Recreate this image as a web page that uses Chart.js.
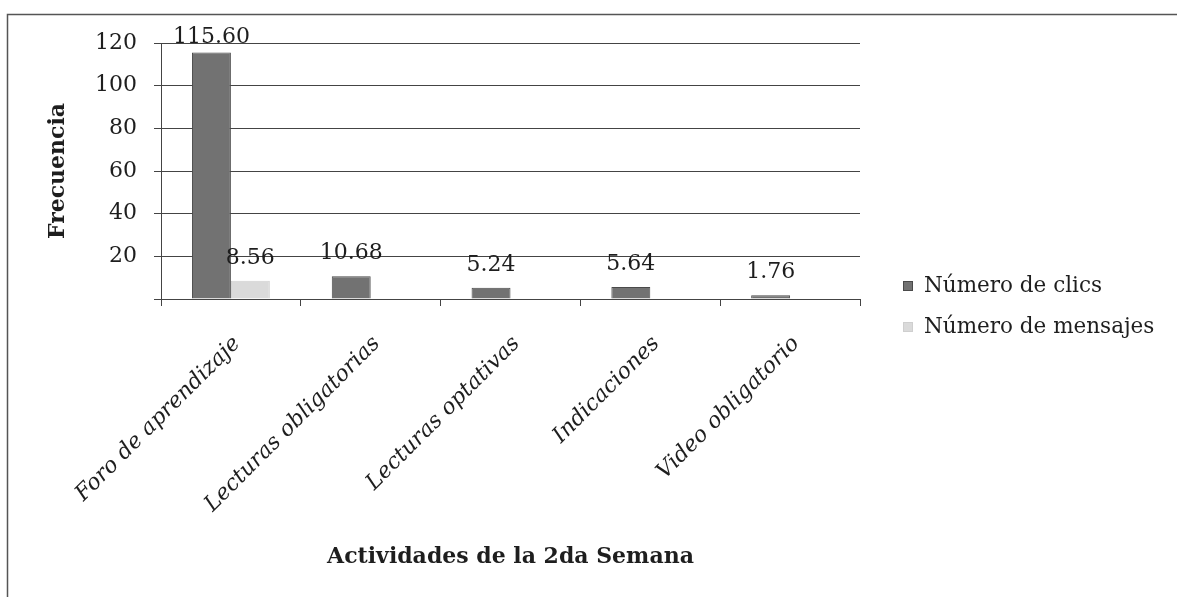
<!DOCTYPE html>
<html>
<head>
<meta charset="utf-8">
<script src="https://cdn.jsdelivr.net/npm/chart.js@4/dist/chart.umd.min.js"></script>
<style>
  html, body { margin: 0; padding: 0; background: #ffffff; }
  #wrap { width: 1177px; height: 597px; position: relative; }
</style>
</head>
<body>
<div id="wrap"><canvas id="c" width="1177" height="597"></canvas></div>
<script>
const categories = ["Foro de aprendizaje", "Lecturas obligatorias", "Lecturas optativas", "Indicaciones", "Video obligatorio"];
const clics = [115.60, 10.68, 5.24, 5.64, 1.76];
const mensajes = [8.56, null, null, null, null];
const seriesNames = ["Número de clics", "Número de mensajes"];
const yTicks = [0, 20, 40, 60, 80, 100, 120];
const xTitle = "Actividades de la 2da Semana";
const yTitle = "Frecuencia";

const SERIF = "'DejaVu Serif', 'Liberation Serif', serif";

const framePlugin = {
  id: 'frame',
  beforeDraw(chart) {
    const ctx = chart.ctx;
    ctx.save();
    ctx.fillStyle = '#ffffff';
    ctx.fillRect(0, 0, chart.width, chart.height);
    ctx.strokeStyle = '#555555';
    ctx.lineWidth = 1.5;
    ctx.beginPath();
    ctx.moveTo(7.5, chart.height);
    ctx.lineTo(7.5, 14.5);
    ctx.lineTo(chart.width, 14.5);
    ctx.stroke();
    ctx.restore();
  }
};

const valueLabels = {
  id: 'valueLabels',
  afterDatasetsDraw(chart) {
    const ctx = chart.ctx;
    const top = chart.chartArea.top;
    ctx.save();
    ctx.font = "22px " + SERIF;
    ctx.fillStyle = '#1e1e1e';
    ctx.textAlign = 'center';
    ctx.textBaseline = 'alphabetic';
    chart.data.datasets.forEach((ds, di) => {
      const meta = chart.getDatasetMeta(di);
      meta.data.forEach((bar, i) => {
        const v = ds.data[i];
        if (v === null || v === undefined) return;
        const y = Math.max(bar.y - 17, top);
        ctx.fillText(v.toFixed(2), bar.x, y);
      });
    });
    ctx.restore();
  }
};

const sideLegend = {
  id: 'sideLegend',
  afterDraw(chart) {
    const ctx = chart.ctx;
    const area = chart.chartArea;
    const boxX = area.right + 43;
    const firstY = 286;
    const step = 41;
    ctx.save();
    ctx.font = "21.5px " + SERIF;
    ctx.textAlign = 'left';
    ctx.textBaseline = 'middle';
    chart.data.datasets.forEach((ds, i) => {
      const cy = firstY + i * step;
      ctx.fillStyle = ds.backgroundColor;
      ctx.fillRect(boxX, cy - 5, 10, 10);
      ctx.strokeStyle = ds.borderColor;
      ctx.lineWidth = 1;
      ctx.strokeRect(boxX + 0.5, cy - 4.5, 9, 9);
      ctx.fillStyle = '#1e1e1e';
      ctx.fillText(ds.label, boxX + 21, cy);
    });
    ctx.restore();
  }
};

new Chart(document.getElementById('c'), {
  type: 'bar',
  data: {
    labels: categories,
    datasets: [
      {
        label: seriesNames[0],
        data: clics,
        backgroundColor: '#727272',
        borderColor: '#4a4a4a',
        borderWidth: 1,
        categoryPercentage: 0.557,
        barPercentage: 1.0
      },
      {
        label: seriesNames[1],
        data: mensajes,
        backgroundColor: '#dadada',
        borderColor: '#cfcfcf',
        borderWidth: 1,
        categoryPercentage: 0.557,
        barPercentage: 1.0
      }
    ]
  },
  options: {
    responsive: false,
    animation: false,
    devicePixelRatio: 1,
    layout: { padding: { top: 43, bottom: 27, left: 45, right: 317 } },
    plugins: {
      legend: { display: false },
      tooltip: { enabled: false }
    },
    scales: {
      x: {
        offset: true,
        grid: { display: true, drawOnChartArea: false, offset: true, color: '#444444', tickLength: 7, lineWidth: 1 },
        border: { color: '#444444', width: 1 },
        ticks: {
          font: { family: SERIF, size: 22, style: 'italic' },
          color: '#1e1e1e',
          maxRotation: 45,
          minRotation: 45,
          autoSkip: false,
          padding: 25,
          labelOffset: 6
        },
        title: {
          display: true,
          text: xTitle,
          font: { family: SERIF, size: 22, weight: 'bold' },
          color: '#1e1e1e',
          padding: { top: 0, bottom: 0 }
        },
        afterFit(s) { s.height = 271; }
      },
      y: {
        min: 0,
        max: 120,
        afterBuildTicks(s) { s.ticks = yTicks.map(v => ({ value: v })); },
        grid: { color: '#444444', lineWidth: 1, tickLength: 7 },
        border: { color: '#444444', width: 1 },
        ticks: {
          font: { family: SERIF, size: 22 },
          color: '#1e1e1e',
          padding: 17,
          callback: (v) => (v === 0 ? '' : String(v))
        },
        title: {
          display: true,
          text: yTitle,
          font: { family: SERIF, size: 22, weight: 'bold' },
          color: '#1e1e1e',
          padding: 0
        },
        afterFit(s) { s.width = 116; }
      }
    }
  },
  plugins: [framePlugin, valueLabels, sideLegend]
});
</script>
</body>
</html>
